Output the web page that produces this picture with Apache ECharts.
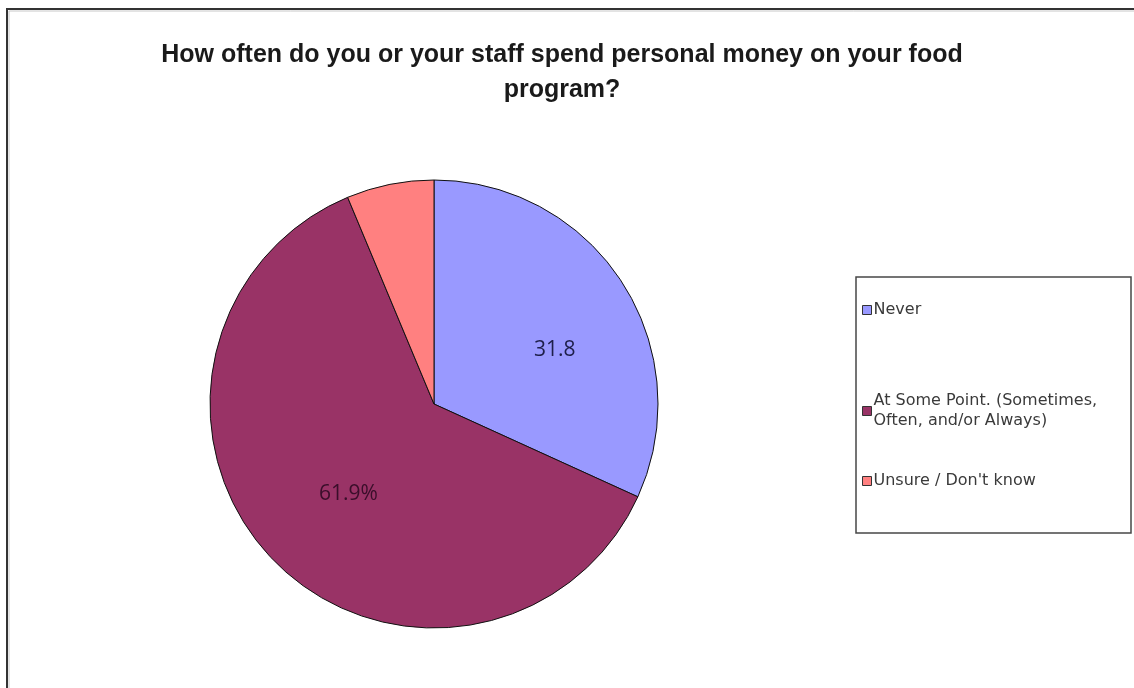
<!DOCTYPE html>
<html>
<head>
<meta charset="utf-8">
<title>Personal money spent on food program</title>
<script src="https://cdn.jsdelivr.net/npm/echarts@6/dist/echarts.min.js"></script>
<style>
  html, body { margin: 0; padding: 0; background: #ffffff; }
  #chart { width: 1134px; height: 688px; }
</style>
</head>
<body>
<div id="chart"></div>
<script>
// Survey answers and their shares (percent)
const categories = [
  'Never',
  'At Some Point. (Sometimes,\nOften, and/or Always)',
  'Unsure / Don\'t know'
];
const shares = [31.8, 61.9, 6.3];
const colors = ['#9999FF', '#993366', '#FF8080'];
// How each slice label is written ('' hides it)
const labelFormats = ['{c}', '{c}%', ''];
const labelColors = ['#1e1f4a', '#3a0e2a', '#000000'];

const titleText = 'How often do you or your staff spend personal money on your food\nprogram?';

const chart = echarts.init(document.getElementById('chart'), null, { renderer: 'canvas' });

const pieData = categories.map((name, i) => ({
  name: name,
  value: shares[i],
  itemStyle: { color: colors[i] },
  label: {
    show: labelFormats[i] !== '',
    formatter: labelFormats[i],
    color: labelColors[i]
  }
}));

// nudges for the in-slice labels
const labelShift = [[24, 8], [-3, 10], [0, 0]];

const legendTops = [300, 381, 471];
const legends = categories.map((name, i) => ({
  data: [name],
  orient: 'vertical',
  left: 862,
  top: legendTops[i],
  padding: 0,
  icon: 'rect',
  itemWidth: 9,
  itemHeight: 9,
  selectedMode: false,
  itemStyle: { borderColor: '#333333', borderWidth: 1 },
  textStyle: {
    fontFamily: 'DejaVu Sans',
    fontSize: 16,
    color: '#3a3a3a',
    lineHeight: 20,
    padding: i === 1 ? [20, 0, 0, -3] : [0, 0, 0, -3]
  }
}));

chart.setOption({
  animation: false,
  backgroundColor: '#ffffff',
  title: {
    text: titleText,
    left: 557,
    top: 33,
    textAlign: 'center',
    textStyle: {
      fontFamily: 'Liberation Sans',
      fontWeight: 'bold',
      fontSize: 25,
      lineHeight: 35,
      color: '#1a1a1a'
    }
  },
  legend: legends,
  graphic: [
    {
      type: 'rect',
      silent: true,
      shape: { x: 7, y: 9, width: 1300, height: 900 },
      style: { fill: null, stroke: '#333333', lineWidth: 2 }
    },
    {
      type: 'rect',
      silent: true,
      shape: { x: 9, y: 11, width: 1300, height: 900 },
      style: { fill: null, stroke: '#c8c8c8', lineWidth: 1 }
    },
    {
      type: 'rect',
      silent: true,
      shape: { x: 856, y: 277, width: 275, height: 256 },
      style: { fill: null, stroke: '#474747', lineWidth: 1.5 }
    }
  ],
  series: [{
    type: 'pie',
    center: [434, 404],
    radius: 224,
    startAngle: 90,
    clockwise: true,
    silent: true,
    emphasis: { disabled: true },
    itemStyle: { borderColor: '#111111', borderWidth: 1 },
    label: {
      position: 'inside',
      fontFamily: 'Open Sans',
      fontSize: 21
    },
    labelLine: { show: false },
    labelLayout: function (params) {
      const s = labelShift[params.dataIndex];
      return { dx: s[0], dy: s[1] };
    },
    data: pieData
  }]
});
</script>
</body>
</html>
